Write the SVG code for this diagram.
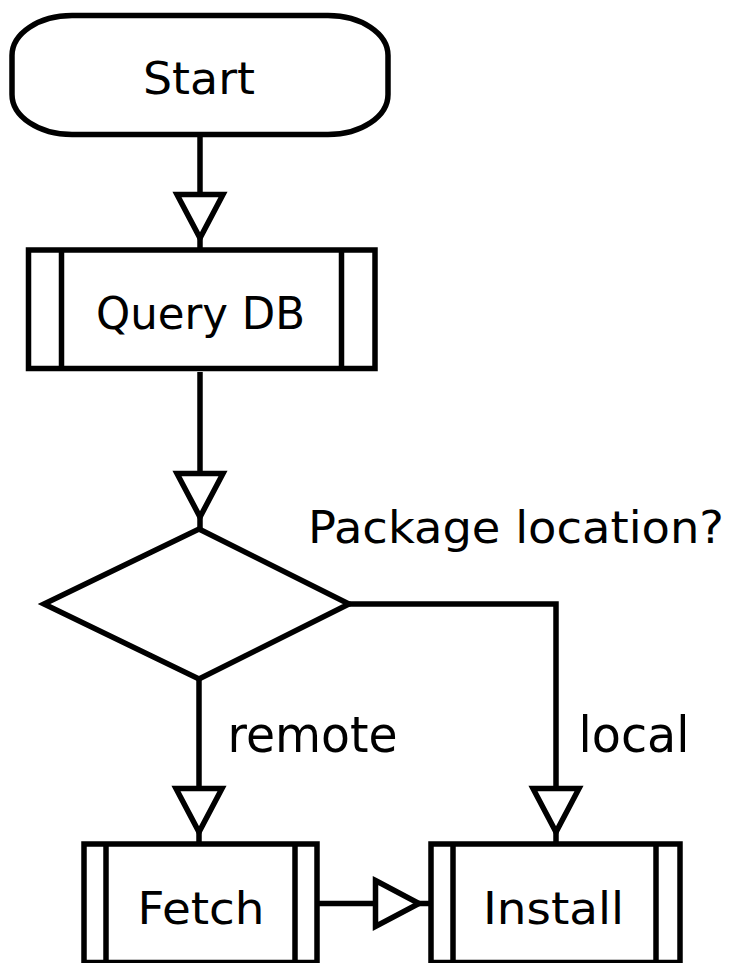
<svg xmlns="http://www.w3.org/2000/svg" width="734" height="963" viewBox="0 0 734 963">
  <style>
    .shape { fill: #ffffff; stroke: #000000; stroke-width: 5.5; }
    .bar { stroke: #000000; stroke-width: 5.5; }
    .edge { fill: none; stroke: #000000; stroke-width: 5.5; }
    .label { font-family: "DejaVu Sans", "Liberation Sans", sans-serif; fill: #000000; text-anchor: middle; }
    .node-text { font-size: 44px; }
    .edge-text { font-size: 50px; }
  </style>
  <defs>
    <!-- hollow triangular arrowhead, tip sits 12px before the line end -->
    <marker id="head" markerUnits="userSpaceOnUse" viewBox="-6 -30 70 60" markerWidth="70" markerHeight="60" refX="55.5" refY="0" orient="auto" overflow="visible">
      <path d="M0,-23 L43.5,0 L0,23 Z" fill="#ffffff" stroke="#000000" stroke-width="5.5" stroke-linejoin="miter"/>
    </marker>
  </defs>

  <rect width="734" height="963" fill="#ffffff"/>

  <g id="connectors">
    <path class="edge" d="M200,137 V250" marker-end="url(#head)"/>
    <path class="edge" d="M200,372 V529" marker-end="url(#head)"/>
    <path class="edge" d="M199,679 V844" marker-end="url(#head)"/>
    <path class="edge" d="M349,604 H556 V844" marker-end="url(#head)"/>
    <path class="edge" d="M317,903.5 H431" marker-end="url(#head)"/>
    <text class="label edge-text" x="312.5" y="752" textLength="170" lengthAdjust="spacingAndGlyphs">remote</text>
    <text class="label edge-text" x="634" y="752" textLength="111" lengthAdjust="spacingAndGlyphs">local</text>
  </g>

  <g id="start">
    <rect class="shape" x="12" y="15.5" width="376" height="119" rx="60" ry="40"/>
    <text class="label node-text" x="199" y="94" textLength="112" lengthAdjust="spacingAndGlyphs">Start</text>
  </g>

  <g id="query-db">
    <rect class="shape" x="28.5" y="250" width="346.5" height="118.5"/>
    <line class="bar" x1="61.5" y1="250" x2="61.5" y2="368.5"/>
    <line class="bar" x1="341.5" y1="250" x2="341.5" y2="368.5"/>
    <text class="label node-text" x="200.5" y="329" textLength="209" lengthAdjust="spacingAndGlyphs">Query DB</text>
  </g>

  <g id="package-location">
    <path class="shape" d="M199,529 L349,604 L199,679 L44,604 Z" stroke-linejoin="miter"/>
    <text class="label node-text" x="516" y="543" textLength="416" lengthAdjust="spacingAndGlyphs">Package location?</text>
  </g>

  <g id="fetch">
    <rect class="shape" x="84" y="844" width="233" height="118.5"/>
    <line class="bar" x1="106" y1="844" x2="106" y2="962.5"/>
    <line class="bar" x1="295" y1="844" x2="295" y2="962.5"/>
    <text class="label node-text" x="201" y="924" textLength="127" lengthAdjust="spacingAndGlyphs">Fetch</text>
  </g>

  <g id="install">
    <rect class="shape" x="431" y="844" width="249" height="118.5"/>
    <line class="bar" x1="453" y1="844" x2="453" y2="962.5"/>
    <line class="bar" x1="656" y1="844" x2="656" y2="962.5"/>
    <text class="label node-text" x="553.5" y="924" textLength="141" lengthAdjust="spacingAndGlyphs">Install</text>
  </g>
</svg>
